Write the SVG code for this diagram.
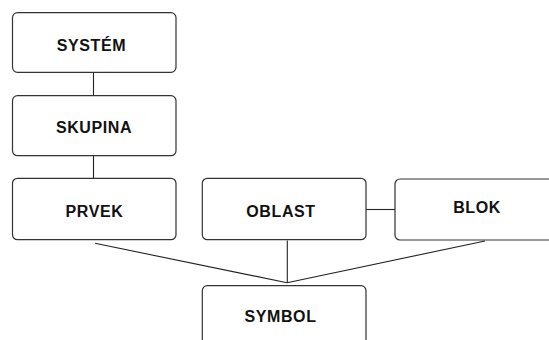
<svg xmlns="http://www.w3.org/2000/svg" width="549" height="340" viewBox="0 0 549 340">
<style>
.box{fill:#fff;stroke:#333;stroke-width:1.2}
.lbl{font-family:"Liberation Sans",Arial,sans-serif;font-size:16px;font-weight:bold;fill:#111;text-anchor:middle;letter-spacing:0.6px}
.conn{stroke:#222;stroke-width:1.1;fill:none}
</style>
<rect width="549" height="340" fill="#fff"/>
<g id="connectors">
<line class="conn" x1="93.5" y1="72.5" x2="93.5" y2="95.5"/>
<line class="conn" x1="93.5" y1="156" x2="93.5" y2="178.5"/>
<line class="conn" x1="366" y1="209.5" x2="395" y2="209.5"/>
<line class="conn" x1="95" y1="243.3" x2="287" y2="282.7"/>
<line class="conn" x1="485" y1="241" x2="287" y2="282.7"/>
<line class="conn" x1="287.3" y1="240.5" x2="287.3" y2="282.7"/>
</g>
<g id="system"><rect class="box" x="12.5" y="12.7" width="163.5" height="59.6" rx="5"/><text class="lbl" x="91.5" y="50.7">SYSTÉM</text></g>
<g id="skupina"><rect class="box" x="12.5" y="95.7" width="163.5" height="60" rx="5"/><text class="lbl" x="94" y="133.3">SKUPINA</text></g>
<g id="prvek"><rect class="box" x="12.5" y="178.3" width="163.5" height="61.4" rx="5"/><text class="lbl" x="94.5" y="216.8">PRVEK</text></g>
<g id="oblast"><rect class="box" x="202.3" y="178.3" width="163.7" height="61.4" rx="5"/><text class="lbl" x="281" y="216.8">OBLAST</text></g>
<g id="blok"><rect class="box" x="395" y="179" width="164" height="61" rx="5"/><text class="lbl" x="477" y="213.3">BLOK</text></g>
<g id="symbol"><rect class="box" x="202.3" y="285.7" width="163.7" height="70" rx="5"/><text class="lbl" x="280.5" y="322">SYMBOL</text></g>
</svg>
